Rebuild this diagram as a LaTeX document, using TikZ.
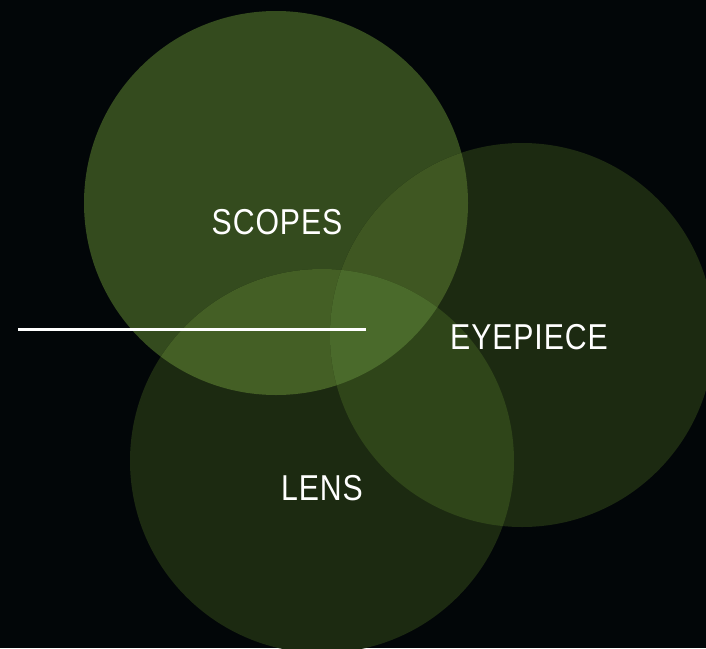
\documentclass[tikz,border=0pt]{standalone}
\usepackage{fontspec}
\setmainfont{Liberation Sans}
\definecolor{bg}{HTML}{020608}
\definecolor{cS}{HTML}{344B1E}
\definecolor{cE}{HTML}{1C2A11}
\definecolor{cL}{HTML}{1C2A11}
\definecolor{cSL}{HTML}{445F25}
\definecolor{cSE}{HTML}{3F5722}
\definecolor{cLE}{HTML}{2F4519}
\definecolor{cSLE}{HTML}{4A6A2B}
\tikzset{lbl/.style={text=white,font=\fontsize{36}{36}\selectfont,inner sep=0pt}}
\newcommand{\cond}[1]{\scalebox{0.84}[1]{\addfontfeature{LetterSpace=3}#1}}
\begin{document}
\begin{tikzpicture}[x=1pt,y=-1pt]
\fill[bg] (0,0) rectangle (706,648);
\useasboundingbox (0,0) rectangle (706,648);
\clip (0,0) rectangle (706,648);
\def\S{(276,203) circle[radius=192]}
\def\E{(522,335) circle[radius=192]}
\def\L{(322,461) circle[radius=192]}
\fill[cS] \S;
\fill[cE] \E;
\fill[cL] \L;
\begin{scope}\clip \S; \fill[cSL] \L; \end{scope}
\begin{scope}\clip \S; \fill[cSE] \E; \end{scope}
\begin{scope}\clip \L; \fill[cLE] \E; \end{scope}
\begin{scope}\clip \S; \clip \L; \fill[cSLE] \E; \end{scope}
\node[lbl] (scopes) at (277,222) {\cond{SCOPES}};
\node[lbl] (eyepiece) at (529,337) {\cond{EYEPIECE}};
\node[lbl] (lens) at (322,488) {\cond{LENS}};
\coordinate (a) at (18,329.5);
\coordinate (b) at (366,329.5);
\draw[white,line width=2.2pt] (a) -- (b);
\end{tikzpicture}
\end{document}
